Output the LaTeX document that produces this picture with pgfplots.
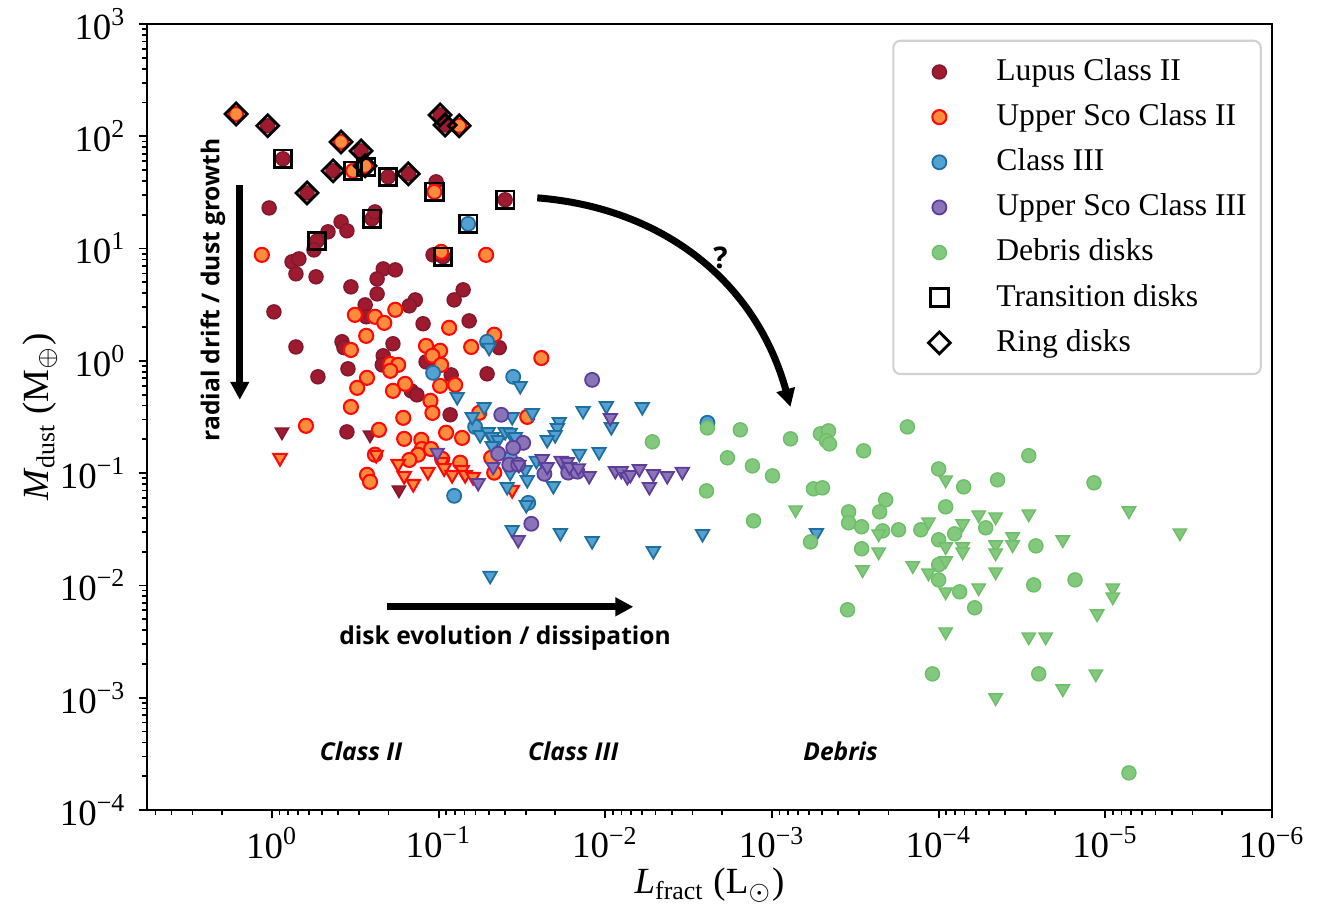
\documentclass[border=0pt]{standalone}
\usepackage{fontspec}
\setmainfont{Liberation Serif}
\newfontfamily\annfont{Open Sans}
\usepackage{pgfplots}
\pgfplotsset{compat=1.18}
\usetikzlibrary{arrows.meta,calc}

\definecolor{lupF}{RGB}{158,26,46}
\definecolor{lupE}{RGB}{128,24,48}
\definecolor{uscF}{RGB}{253,141,60}
\definecolor{uscE}{RGB}{255,10,10}
\definecolor{c3F}{RGB}{84,160,210}
\definecolor{c3E}{RGB}{31,110,160}
\definecolor{u3F}{RGB}{137,116,184}
\definecolor{u3E}{RGB}{94,60,153}
\definecolor{debF}{RGB}{130,201,125}
\definecolor{debE}{RGB}{110,190,105}

\newcommand\logtick[1]{\pgfmathtruncatemacro\myexp{round(#1)}10\textsuperscript{\ifnum\myexp<0 −\the\numexpr-\myexp\relax\else\myexp\fi}}

\begin{document}
\begin{tikzpicture}
\begin{axis}[
  name=ax,
  scale only axis, width=11.25cm, height=7.86cm,
  xmode=log, ymode=log, log basis x=10, log basis y=10,
  x dir=reverse,
  xmin=1e-6, xmax=5.62, ymin=1e-4, ymax=1e3,
  tick pos=left, tick align=outside,
  major tick length=0.85mm, minor tick length=0.5mm,
  every tick/.style={black, line width=0.5pt},
  axis line style={line width=0.6pt},
  xticklabel={\logtick{\tick}}, yticklabel={\logtick{\tick}},
  tick label style={font=\fontsize{10.5}{12}\selectfont},
  xticklabel style={yshift=0.4mm},
  label style={font=\fontsize{10.5}{12}\selectfont, inner sep=0pt},
  xlabel={\textit{L}\textsubscript{fract} (L\textsubscript{$\odot$})},
  ylabel={\textit{M}\textsubscript{dust} (M\textsubscript{$\oplus$})},
  xlabel style={at={(axis description cs:0.5,-0.096)}, anchor=center},
  ylabel style={at={(axis description cs:-0.095,0.5)}, anchor=center},
  legend style={at={(0.991,0.98)}, anchor=north east, draw=black!18, line width=0.6pt,
    rounded corners=2pt, fill=white, font=\fontsize{9}{11}\selectfont,
    row sep=1.1pt, inner xsep=2pt, inner ysep=3pt},
  legend cell align=left,
  legend image code/.code={\path[draw=none, fill=none] (0cm,0cm) -- (0.89cm,0cm);
    \draw[#1, /tikz/only marks] plot coordinates {(0.39cm,0cm)};},
]
\addlegendimage{mark=*, mark size=2pt, draw=lupE, fill=lupF, line width=0.4pt}
\addlegendentry{Lupus Class II}
\addlegendimage{mark=*, mark size=2pt, draw=uscE, fill=uscF, line width=0.6pt}
\addlegendentry{Upper Sco Class II}
\addlegendimage{mark=*, mark size=2pt, draw=c3E, fill=c3F, line width=0.5pt}
\addlegendentry{Class III}
\addlegendimage{mark=*, mark size=2pt, draw=u3E, fill=u3F, line width=0.5pt}
\addlegendentry{Upper Sco Class III}
\addlegendimage{mark=*, mark size=2pt, draw=debE, fill=debF, line width=0.4pt}
\addlegendentry{Debris disks}
\addlegendimage{mark=square, mark size=2.5pt, draw=black, line width=0.8pt}
\addlegendentry{Transition disks}
\addlegendimage{mark=square, mark size=2.2pt, mark options={rotate=45}, draw=black, line width=0.8pt}
\addlegendentry{Ring disks}

% Lupus Class II
\addplot[only marks, mark=*, mark size=2pt, draw=lupE, fill=lupF, line width=0.4pt, forget plot] coordinates {
(1.06,124) (0.859,63) (0.430,49.2) (0.616,31.3) (0.292,74.1) (0.272,53.4) (0.201,43.5) (0.152,46.3)
(0.1035,39.3) (0.098,155) (0.0914,126) (0.0399,27.2) (0.251,18.4) (0.241,21.2) (0.537,11.7) (0.560,9.73)
(1.04,23.0) (0.385,17.3) (0.355,14.4) (0.461,14.1) (0.758,7.62) (0.689,8.09) (0.718,5.96) (0.544,5.60)
(0.094,8.44) (0.108,8.79) (0.215,6.59) (0.182,6.46) (0.234,5.37) (0.336,4.56) (0.234,3.95) (0.0713,4.29)
(0.0807,3.49) (0.138,3.49) (0.150,3.09) (0.276,3.15) (0.124,2.14) (0.0656,2.27) (0.973,2.73) (0.272,2.47)
(0.0433,1.31) (0.718,1.33) (0.380,1.48) (0.370,1.31) (0.188,1.42) (0.119,0.98) (0.215,1.11) (0.218,0.921)
(0.0841,0.750) (0.0512,0.766) (0.530,0.721) (0.350,0.849) (0.146,0.541) (0.135,0.498) (0.0853,0.331) (0.355,0.233)
};
\addplot[only marks, mark=triangle*, mark size=2.2pt, mark options={rotate=180}, draw=lupE, fill=lupF, line width=0.4pt, forget plot] coordinates {
(0.871,0.233) (0.258,0.219) (0.173,0.0710)
};
% Upper Sco Class II
\addplot[only marks, mark=*, mark size=2pt, draw=uscE, fill=uscF, line width=0.6pt, forget plot] coordinates {
(1.64,158) (0.385,89.1) (0.326,49.2) (0.276,54.5) (0.0753,124) (0.106,32.0) (0.0966,9.35) (1.15,8.79)
(0.0519,8.79) (0.318,2.57) (0.241,2.47) (0.212,2.18) (0.182,2.85) (0.0865,1.97) (0.0464,1.71) (0.336,1.25)
(0.272,1.67) (0.119,1.36) (0.098,1.23) (0.109,1.11) (0.0966,0.921) (0.0638,1.33) (0.0242,1.06) (0.195,0.940)
(0.175,0.921) (0.195,0.815) (0.269,0.706) (0.308,0.575) (0.336,0.389) (0.188,0.541) (0.159,0.624) (0.098,0.599)
(0.0796,0.611) (0.112,0.441) (0.109,0.344) (0.163,0.311) (0.625,0.264) (0.228,0.243) (0.161,0.202) (0.127,0.198)
(0.126,0.164) (0.133,0.146) (0.0902,0.229) (0.0723,0.206) (0.241,0.146) (0.150,0.131) (0.269,0.0966) (0.258,0.0837)
(0.111,0.164) (0.0743,0.124) (0.0464,0.101) (0.0571,0.344) (0.0294,0.317) (0.0484,0.137) (0.0953,0.134)
};
\addplot[only marks, mark=triangle*, mark size=2.2pt, mark options={rotate=180}, draw=uscE, fill=uscF, line width=0.6pt, forget plot] coordinates {
(0.895,0.137) (0.237,0.146) (0.175,0.121) (0.161,0.0946) (0.142,0.0803) (0.116,0.103) (0.0953,0.126)
(0.0927,0.111) (0.0830,0.0966) (0.0723,0.107) (0.0693,0.0966) (0.0621,0.0927) (0.0362,0.0710)
};
% Class III
\addplot[only marks, mark=*, mark size=2pt, draw=c3E, fill=c3F, line width=0.5pt, forget plot] coordinates {
(0.0665,16.6) (0.0512,1.48) (0.108,0.782) (0.0357,0.721) (0.0604,0.258) (0.0807,0.0628) (0.0372,0.134)
(0.0290,0.0544) (0.00244,0.281)
};
\addplot[only marks, mark=triangle*, mark size=2.2pt, mark options={rotate=180}, draw=c3E, fill=c3F, line width=0.5pt, forget plot] coordinates {
(0.0498,1.31) (0.0324,0.599) (0.0774,0.478) (0.0629,0.317) (0.0533,0.389) (0.0362,0.317) (0.0274,0.344)
(0.0564,0.219) (0.0504,0.233) (0.0477,0.210) (0.0439,0.198) (0.0399,0.233) (0.0372,0.229) (0.0347,0.210)
(0.0477,0.175) (0.0372,0.101) (0.0302,0.107) (0.0294,0.0871) (0.0388,0.0755) (0.0259,0.129) (0.0229,0.114)
(0.0205,0.0771) (0.0189,0.286) (0.0194,0.253) (0.0200,0.219) (0.0223,0.198) (0.0136,0.359) (0.00986,0.397)
(0.00920,0.258) (0.00600,0.389) (0.0143,0.149) (0.0109,0.155) (0.0298,0.0522) (0.0362,0.0313) (0.0186,0.0294)
(0.0120,0.0249) (0.00515,0.0203) (0.00261,0.0288) (0.000541,0.0294) (0.0491,0.0122)
};
% Upper Sco Class III
\addplot[only marks, mark=*, mark size=2pt, draw=u3E, fill=u3F, line width=0.5pt, forget plot] coordinates {
(0.0120,0.677) (0.0421,0.331) (0.0311,0.186) (0.0357,0.168) (0.0439,0.149) (0.0377,0.119) (0.0333,0.119)
(0.0232,0.0986) (0.0167,0.101) (0.0147,0.103) (0.0278,0.0354)
};
\addplot[only marks, mark=triangle*, mark size=2.2pt, mark options={rotate=180}, draw=u3E, fill=u3F, line width=0.5pt, forget plot] coordinates {
(0.102,0.152) (0.0579,0.0820) (0.0471,0.114) (0.0330,0.119) (0.0333,0.0255) (0.0239,0.134) (0.0223,0.114)
(0.0184,0.129) (0.0169,0.126) (0.0164,0.114) (0.0145,0.111) (0.0125,0.0946) (0.00933,0.311) (0.00871,0.105)
(0.00802,0.105) (0.00738,0.0927) (0.00708,0.0966) (0.00625,0.109) (0.00515,0.0986) (0.00425,0.0946)
(0.00345,0.103) (0.00544,0.0755)
};
% Debris disks
\addplot[only marks, mark=*, mark size=2pt, draw=debE, fill=debF, line width=0.4pt, forget plot] coordinates {
(0.00522,0.190) (0.00244,0.253) (0.00155,0.243) (7.74e-4,0.202) (5.12e-4,0.224) (4.58e-4,0.238) (4.71e-4,0.194)
(4.52e-4,0.182) (1.54e-4,0.258) (0.00185,0.137) (0.00131,0.116) (9.93e-4,0.0946) (2.82e-4,0.158) (0.00247,0.0695)
(5.64e-4,0.0725) (4.98e-4,0.0740) (5.87e-4,0.0244) (0.00129,0.0376) (3.52e-4,0.00607) (2.08e-4,0.0578)
(2.26e-4,0.0452) (3.47e-4,0.0452) (3.47e-4,0.0361) (2.90e-4,0.0333) (2.17e-4,0.0306) (1.74e-4,0.0313)
(1.28e-4,0.0313) (2.90e-4,0.0212) (1.0e-4,0.109) (7.08e-5,0.0755) (4.43e-5,0.0871) (2.88e-5,0.143)
(1.17e-5,0.0820) (9.08e-5,0.0501) (1.0e-4,0.0255) (8.02e-5,0.0288) (5.22e-5,0.0326) (2.61e-5,0.0225)
(1.0e-4,0.0153) (1.0e-4,0.0112) (7.48e-5,0.00877) (6.08e-5,0.00632) (2.69e-5,0.0101) (1.52e-5,0.0112)
(1.09e-4,0.00163) (2.51e-5,0.00163) (7.22e-6,2.14e-4)
};
\addplot[only marks, mark=triangle*, mark size=2.2pt, mark options={rotate=180}, draw=debE, fill=debF, line width=0.4pt, forget plot] coordinates {
(7.22e-4,0.0471) (2.29e-4,0.0288) (2.29e-4,0.0199) (2.86e-4,0.0138) (9.08e-5,0.0871) (1.15e-4,0.0368)
(7.18e-5,0.0354) (5.75e-5,0.0425) (4.55e-5,0.0408) (2.88e-5,0.0434) (7.22e-6,0.0462) (3.57e-6,0.0294)
(9.08e-5,0.0221) (7.18e-5,0.0221) (7.18e-5,0.0199) (4.55e-5,0.0230) (4.55e-5,0.0195) (3.60e-5,0.0271)
(3.60e-5,0.0230) (1.80e-5,0.0255) (1.43e-4,0.0150) (1.15e-4,0.0129) (9.08e-5,0.0166) (9.08e-5,0.00877)
(5.75e-5,0.00952) (4.55e-5,0.0132) (9.02e-6,0.00952) (9.02e-6,0.00791) (1.12e-5,0.00559) (9.08e-5,0.00386)
(2.88e-5,0.00348) (2.28e-5,0.00348) (1.14e-5,0.00163) (1.80e-5,0.00120) (4.55e-5,9.98e-4)
};
% Transition disks
\addplot[only marks, mark=square, mark size=2.5pt, draw=black, fill=none, line width=0.8pt, forget plot] coordinates {
(0.859,63) (0.326,49.2) (0.272,53.4) (0.201,43.5) (0.106,32.0) (0.0399,27.2) (0.0665,16.6) (0.251,18.4)
(0.537,11.7) (0.094,8.44)
};
% Ring disks
\addplot[only marks, mark=square, mark size=2.2pt, mark options={rotate=45}, draw=black, fill=none, line width=0.8pt, forget plot] coordinates {
(1.64,158) (1.06,124) (0.385,89.1) (0.292,74.1) (0.430,49.2) (0.276,54.5) (0.616,31.3) (0.152,46.3)
(0.098,155) (0.0914,126) (0.0753,124)
};

% annotations
\draw[line width=2pt, -{Triangle[width=1.8mm,length=1.8mm]}] (axis cs:1.56,36.9) -- (axis cs:1.56,0.45);
\node[rotate=90, font=\annfont\bfseries\fontsize{7}{8}\selectfont] at (axis cs:2.26,4.29) {radial drift / dust growth};
\draw[line width=2pt, -{Triangle[width=1.8mm,length=1.8mm]}] (axis cs:0.204,0.00645) -- (axis cs:0.00679,0.00645);
\node[font=\annfont\bfseries\fontsize{7}{8}\selectfont] at (axis cs:0.0399,0.00341) {disk evolution / dissipation};
\draw[line width=2pt, -{Triangle[width=1.8mm,length=1.8mm]}] (axis cs:0.0256,28.3) to[bend left=35] (axis cs:7.74e-4,0.389);
\node[font=\annfont\bfseries\fontsize{8.5}{9}\selectfont] at (axis cs:0.00204,8.26) {?};
\node[font=\annfont\bfseries\itshape\fontsize{7}{8}\selectfont] at (axis cs:0.292,3.30e-4) {Class II};
\node[font=\annfont\bfseries\itshape\fontsize{7}{8}\selectfont] at (axis cs:0.01556,3.30e-4) {Class III};
\node[font=\annfont\bfseries\itshape\fontsize{7}{8}\selectfont] at (axis cs:3.88e-4,3.30e-4) {Debris};
\end{axis}
\pgfresetboundingbox
\path ($(ax.south west)+(-1.47cm,-0.95cm)$) rectangle ($(ax.north east)+(0.53cm,0.24cm)$);
\end{tikzpicture}
\end{document}
